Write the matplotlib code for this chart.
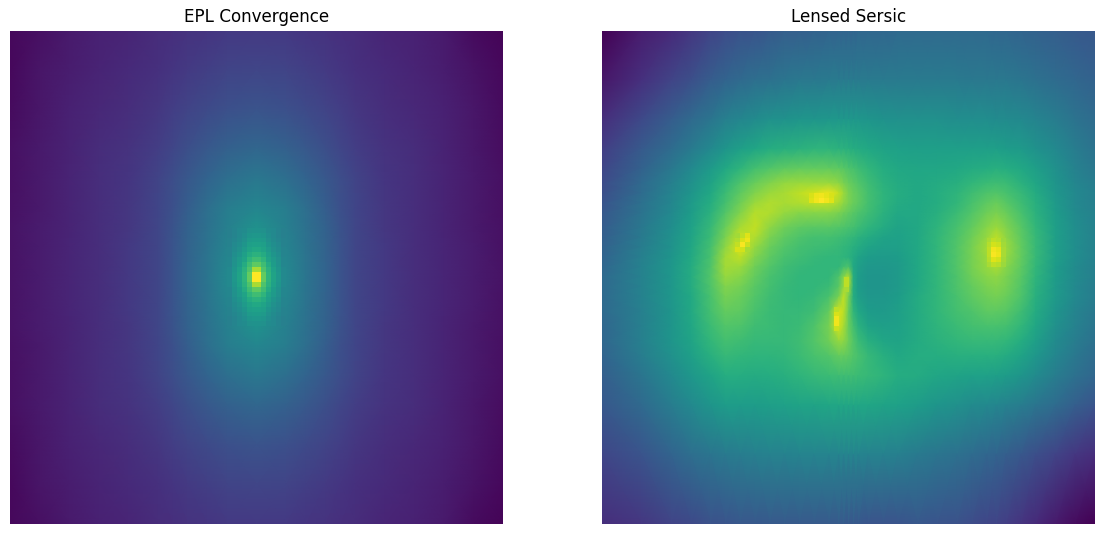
import numpy as np
import matplotlib
matplotlib.use("Agg")
import matplotlib.pyplot as plt

# Convergence map, sampled on a grid that tightens towards the core
kappa_x = [0, 6, 12, 18, 24, 30, 33, 36, 40, 44, 50, 56, 60, 64, 67, 70, 76, 82, 88, 94, 100]
kappa_y = [0, 8, 16, 24, 30, 36, 40, 44, 50, 56, 60, 64, 70, 76, 84, 92, 100]
kappa = [
    [.02,.04,.07,.09,.105,.125,.135,.145,.155,.165,.17,.165,.155,.145,.135,.125,.105,.09,.07,.03,.01],
    [.02,.055,.08,.10,.12,.14,.155,.17,.185,.20,.21,.20,.185,.17,.155,.14,.12,.10,.08,.05,.02],
    [.03,.06,.09,.11,.13,.16,.18,.20,.225,.245,.26,.245,.225,.20,.18,.16,.13,.11,.09,.06,.03],
    [.04,.068,.095,.125,.145,.18,.21,.24,.275,.305,.33,.305,.275,.24,.21,.18,.145,.125,.095,.065,.035],
    [.04,.07,.10,.13,.155,.20,.235,.27,.32,.36,.40,.36,.32,.27,.235,.20,.155,.13,.10,.07,.04],
    [.045,.07,.10,.13,.16,.205,.245,.295,.36,.42,.46,.42,.36,.295,.245,.205,.16,.13,.10,.07,.04],
    [.047,.075,.10,.13,.16,.21,.255,.31,.37,.43,.51,.43,.37,.31,.255,.21,.16,.13,.10,.07,.045],
    [.05,.075,.105,.13,.165,.21,.26,.315,.38,.45,.60,.45,.38,.315,.26,.21,.165,.13,.105,.075,.045],
    [.05,.075,.105,.13,.165,.21,.26,.32,.39,.47,.95,.47,.39,.32,.26,.21,.165,.13,.105,.075,.05],
    [.05,.075,.105,.13,.165,.21,.26,.315,.38,.45,.60,.45,.38,.315,.26,.21,.165,.13,.105,.075,.045],
    [.047,.075,.10,.13,.16,.21,.255,.31,.37,.43,.51,.43,.37,.31,.255,.21,.16,.13,.10,.07,.045],
    [.045,.07,.10,.13,.16,.205,.245,.295,.36,.42,.46,.42,.36,.295,.245,.205,.16,.13,.10,.07,.04],
    [.04,.07,.10,.13,.155,.20,.235,.27,.32,.36,.40,.36,.32,.27,.235,.20,.155,.13,.10,.07,.04],
    [.04,.068,.095,.125,.145,.18,.21,.24,.275,.305,.33,.305,.275,.24,.21,.18,.145,.125,.095,.065,.035],
    [.03,.06,.09,.11,.13,.16,.18,.20,.225,.245,.26,.245,.225,.20,.18,.16,.13,.11,.09,.06,.03],
    [.02,.055,.08,.10,.12,.14,.155,.17,.185,.20,.21,.20,.185,.17,.155,.14,.12,.10,.08,.05,.02],
    [.02,.04,.07,.09,.105,.125,.135,.145,.155,.165,.17,.165,.155,.145,.135,.125,.105,.09,.07,.03,.01],
]

# Pixel values around the convergence peak
core_x = list(range(44, 57))
core_y = list(range(40, 61))
core = [
    [.43,.45,.47,.48,.50,.51,.51,.50,.48,.47,.45,.43],
    [.43,.45,.47,.49,.52,.53,.53,.52,.49,.47,.45,.43],
    [.44,.46,.48,.50,.54,.55,.55,.54,.50,.48,.46,.44],
    [.44,.47,.49,.52,.56,.57,.57,.56,.52,.49,.47,.44],
    [.45,.48,.50,.54,.58,.60,.60,.58,.54,.50,.48,.45],
    [.45,.49,.52,.56,.61,.64,.64,.61,.56,.52,.49,.45],
    [.46,.50,.54,.58,.65,.69,.69,.65,.58,.54,.50,.46],
    [.46,.51,.55,.61,.69,.75,.75,.69,.61,.55,.51,.46],
    [.47,.52,.57,.64,.72,.87,.87,.72,.64,.57,.52,.47],
    [.47,.53,.58,.65,.76,1.0,1.0,.76,.65,.58,.53,.47],
    [.47,.53,.58,.65,.76,1.0,1.0,.76,.65,.58,.53,.47],
    [.47,.52,.57,.64,.72,.87,.87,.72,.64,.57,.52,.47],
    [.46,.51,.55,.61,.69,.75,.75,.69,.61,.55,.51,.46],
    [.46,.50,.54,.58,.65,.69,.69,.65,.58,.54,.50,.46],
    [.45,.49,.52,.56,.61,.64,.64,.61,.56,.52,.49,.45],
    [.45,.48,.50,.54,.58,.60,.60,.58,.54,.50,.48,.45],
    [.44,.47,.49,.52,.56,.57,.57,.56,.52,.49,.47,.44],
    [.44,.46,.48,.50,.54,.55,.55,.54,.50,.48,.46,.44],
    [.43,.45,.47,.49,.52,.53,.53,.52,.49,.47,.45,.43],
    [.43,.45,.47,.48,.50,.51,.51,.50,.48,.47,.45,.43],
]

# Lensed source brightness
sersic_x = [0, 8, 14, 18, 22, 25, 28, 31, 34, 37, 40, 43, 46, 48, 49, 50, 51, 52, 54, 57, 60, 64, 68, 72, 75, 78, 80, 82, 85, 88, 92, 96, 100]
sersic_y = [0, 10, 18, 24, 28, 31, 33, 35, 37, 40, 42, 44, 46, 48, 50, 52, 54, 57, 60, 63, 66, 70, 76, 86, 100]
sersic = [
    [.00,.08,.12,.16,.20,.23,.25,.26,.28,.30,.30,.31,.32,.32,.32,.32,.32,.33,.33,.33,.34,.34,.34,.34,.34,.34,.33,.33,.32,.31,.30,.28,.27],
    [.06,.14,.20,.24,.29,.32,.34,.36,.37,.39,.40,.40,.41,.41,.41,.41,.41,.41,.41,.41,.41,.41,.41,.41,.40,.40,.40,.40,.39,.37,.35,.33,.31],
    [.13,.22,.29,.34,.39,.43,.46,.48,.50,.51,.52,.52,.53,.53,.53,.53,.53,.53,.52,.51,.50,.50,.50,.49,.49,.49,.48,.48,.47,.45,.42,.38,.35],
    [.18,.28,.35,.41,.47,.52,.56,.59,.62,.63,.64,.65,.65,.64,.64,.63,.62,.61,.60,.58,.57,.56,.56,.56,.56,.56,.56,.55,.54,.51,.47,.42,.38],
    [.21,.31,.40,.47,.54,.60,.65,.70,.73,.75,.76,.76,.76,.75,.74,.72,.71,.69,.66,.62,.60,.59,.59,.60,.61,.62,.63,.62,.60,.56,.50,.44,.40],
    [.23,.34,.43,.50,.58,.65,.72,.77,.81,.84,.85,.85,.85,.83,.80,.77,.75,.73,.69,.64,.61,.60,.61,.63,.66,.68,.69,.68,.64,.59,.52,.46,.42],
    [.24,.35,.45,.52,.60,.68,.75,.81,.85,.87,.90,.93,.97,.91,.85,.80,.77,.75,.70,.65,.62,.60,.62,.65,.69,.72,.73,.71,.67,.61,.53,.47,.43],
    [.26,.37,.46,.54,.62,.70,.78,.85,.88,.87,.88,.90,.90,.87,.83,.80,.77,.75,.70,.65,.61,.60,.62,.66,.71,.75,.77,.74,.69,.63,.54,.47,.43],
    [.27,.38,.47,.55,.64,.73,.81,.89,.88,.84,.82,.82,.82,.80,.78,.76,.74,.72,.69,.64,.60,.60,.63,.68,.73,.78,.80,.77,.71,.64,.55,.48,.44],
    [.29,.40,.49,.57,.67,.77,.87,.91,.83,.78,.75,.74,.74,.73,.72,.71,.70,.68,.65,.61,.58,.60,.65,.71,.76,.82,.85,.81,.74,.66,.56,.49,.44],
    [.30,.41,.50,.58,.68,.80,.91,.88,.80,.75,.72,.70,.70,.69,.68,.67,.66,.64,.61,.58,.57,.60,.66,.72,.78,.84,.90,.83,.75,.67,.56,.49,.44],
    [.31,.42,.51,.59,.70,.83,.94,.84,.77,.73,.70,.69,.68,.67,.66,.65,.63,.61,.58,.56,.56,.60,.66,.73,.79,.86,.95,.85,.76,.67,.56,.49,.44],
    [.32,.43,.52,.60,.71,.86,.90,.81,.75,.71,.69,.67,.66,.66,.65,.64,.61,.58,.55,.54,.55,.60,.66,.73,.79,.85,.92,.84,.76,.67,.56,.49,.44],
    [.33,.44,.53,.61,.72,.86,.85,.78,.73,.69,.67,.66,.66,.66,.70,.72,.60,.56,.53,.53,.54,.60,.66,.73,.79,.84,.87,.82,.75,.66,.55,.48,.43],
    [.34,.44,.53,.61,.73,.84,.82,.76,.71,.68,.66,.66,.66,.72,.82,.88,.62,.55,.52,.52,.54,.60,.66,.72,.78,.82,.83,.80,.74,.65,.55,.48,.43],
    [.34,.44,.53,.61,.72,.81,.79,.74,.70,.67,.66,.66,.68,.74,.84,.86,.62,.55,.52,.52,.54,.60,.66,.72,.76,.80,.81,.79,.73,.64,.54,.47,.42],
    [.34,.44,.53,.60,.71,.79,.77,.73,.69,.67,.66,.67,.71,.79,.90,.80,.62,.56,.53,.53,.55,.61,.66,.71,.75,.78,.79,.77,.72,.63,.54,.47,.42],
    [.34,.43,.52,.60,.70,.76,.75,.71,.68,.67,.67,.69,.76,.94,.90,.77,.66,.60,.55,.54,.56,.61,.66,.70,.72,.75,.75,.74,.69,.61,.52,.45,.40],
    [.33,.43,.52,.59,.68,.73,.72,.69,.68,.67,.68,.72,.79,.93,.87,.77,.70,.64,.58,.56,.57,.61,.65,.68,.70,.71,.71,.70,.66,.59,.50,.44,.39],
    [.33,.43,.52,.58,.66,.70,.69,.67,.67,.67,.69,.73,.78,.84,.83,.78,.73,.68,.63,.59,.58,.61,.64,.66,.67,.67,.67,.66,.62,.56,.48,.42,.37],
    [.32,.42,.50,.56,.63,.67,.66,.65,.65,.66,.68,.71,.73,.76,.76,.75,.73,.71,.67,.63,.60,.62,.62,.63,.63,.63,.63,.61,.58,.53,.46,.40,.35],
    [.30,.39,.47,.53,.58,.62,.62,.61,.62,.63,.65,.67,.68,.69,.69,.69,.69,.68,.67,.65,.62,.61,.59,.58,.57,.57,.56,.55,.52,.48,.42,.37,.33],
    [.27,.34,.42,.47,.52,.55,.55,.55,.56,.57,.58,.58,.59,.59,.59,.59,.59,.59,.59,.58,.57,.55,.52,.50,.48,.47,.46,.44,.42,.39,.35,.30,.26],
    [.21,.26,.32,.36,.39,.41,.42,.43,.44,.44,.45,.45,.45,.45,.45,.45,.45,.45,.44,.44,.43,.41,.39,.37,.35,.33,.32,.30,.27,.24,.20,.16,.13],
    [.13,.16,.20,.22,.25,.26,.27,.27,.28,.28,.28,.28,.28,.28,.28,.27,.27,.27,.26,.26,.26,.27,.26,.25,.23,.21,.20,.18,.15,.12,.07,.03,.00],
]

# Brightest pixels of the lensed images
peak_top_x = [42, 43, 44, 45, 46, 47]
peak_top_y = [33, 34, 35]
peak_top = [
    [.94,.97,.98,.96,.94],
    [.95,.98,1.0,.98,.95],
]
peak_left_x = [27, 28, 29, 30]
peak_left_y = [41, 42, 43, 44, 45]
peak_left = [
    [.86,.90,.95],
    [.88,.94,.97],
    [.91,.99,.92],
    [.94,.93,.87],
]
peak_tip_x = [47, 48]
peak_tip_y = [56, 57, 58, 59, 60, 61]
peak_tip = [[.90], [.94], [.98], [.98], [.92]]
peak_needle_x = [49, 50]
peak_needle_y = [50, 51, 52, 53]
peak_needle = [[.90], [.90], [.87]]
peak_right_x = [78, 79, 80, 81, 82]
peak_right_y = [42, 43, 44, 45, 46, 47, 48]
peak_right = [
    [.87,.90,.89,.85],
    [.89,.93,.92,.86],
    [.90,.98,.96,.87],
    [.90,.99,.97,.87],
    [.89,.95,.93,.86],
    [.87,.90,.89,.85],
]

W, H = 1104, 534
fig = plt.figure(figsize=(W / 100, H / 100), dpi=100)
ax1 = fig.add_axes([10 / W, (H - 523.5) / H, 493 / W, 493 / H])
ax2 = fig.add_axes([602 / W, (H - 523.5) / H, 493 / W, 493 / H])

ax1.pcolormesh(kappa_x, kappa_y, np.array(kappa), shading='gouraud', cmap='viridis', vmin=0, vmax=1)
ax1.pcolormesh(core_x, core_y, np.array(core), shading='flat', cmap='viridis', vmin=0, vmax=1)
ax1.set_title("EPL Convergence", fontsize=12.1)

ax2.pcolormesh(sersic_x, sersic_y, np.array(sersic), shading='gouraud', cmap='viridis', vmin=0, vmax=1)
for px, py, vals in [(peak_top_x, peak_top_y, peak_top), (peak_left_x, peak_left_y, peak_left),
                     (peak_tip_x, peak_tip_y, peak_tip), (peak_needle_x, peak_needle_y, peak_needle),
                     (peak_right_x, peak_right_y, peak_right)]:
    ax2.pcolormesh(px, py, np.array(vals), shading='flat', cmap='viridis', vmin=0, vmax=1)
ax2.set_title("Lensed Sersic", fontsize=12.1)

for ax in (ax1, ax2):
    ax.set_xlim(0, 100)
    ax.set_ylim(100, 0)
    ax.axis('off')

fig.savefig("out.png", dpi=100)
